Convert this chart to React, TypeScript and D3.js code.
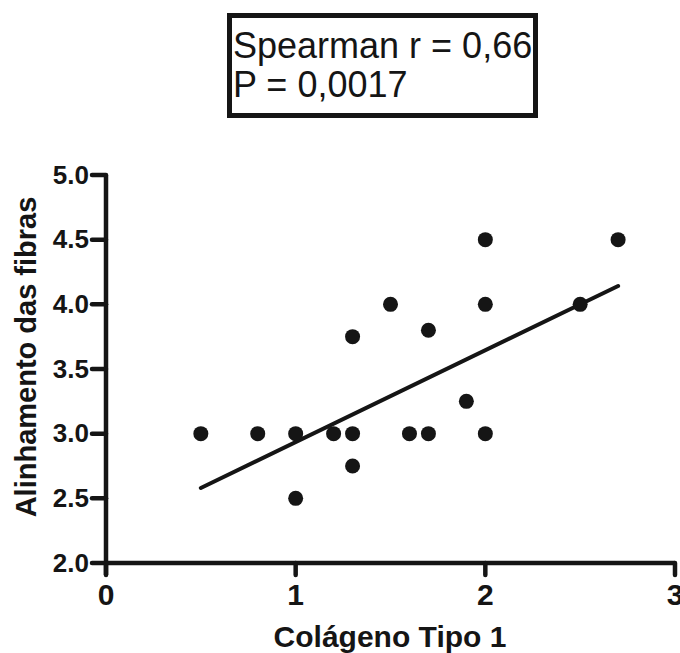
import React from "react";
import * as d3 from "d3";

const colageno = [0.5, 0.8, 1.0, 1.0, 1.2, 1.3, 1.3, 1.3, 1.5, 1.6, 1.7, 1.7, 1.9, 2.0, 2.0, 2.0, 2.5, 2.7];
const alinhamento = [3.0, 3.0, 3.0, 2.5, 3.0, 3.0, 2.75, 3.75, 4.0, 3.0, 3.0, 3.8, 3.25, 3.0, 4.0, 4.5, 4.0, 4.5];
// fitted line: [intercept, slope]
const fit = [2.225, 0.71];
const xTicks = [0, 1, 2, 3];
const yTicks = [2.0, 2.5, 3.0, 3.5, 4.0, 4.5, 5.0];
const statLines = ["Spearman r = 0,66", "P = 0,0017"];

const W = 680;
const H = 653;
const INK = "#151515";

const App = () => {
    const x = d3.scaleLinear().domain([0, 3]).range([106, 675]);
    const y = d3.scaleLinear().domain([2, 5]).range([563, 175]);

    const xMin = d3.min(colageno) as number;
    const xMax = d3.max(colageno) as number;
    const fitLine = d3.line<number>()
        .x((d) => x(d))
        .y((d) => y(fit[0] + fit[1] * d));

    return (
        <svg width={W} height={H} style={{position: "absolute", left: 0, top: 0}}
            fontFamily="'Liberation Sans', Arial, sans-serif">
            <rect x={0} y={0} width={W} height={H} fill="#fff" />

            {/* stats box */}
            <rect x={229.5} y={15.5} width={306} height={100} fill="none" stroke={INK} strokeWidth={5} />
            {statLines.map((s, i) => (
                <text key={i} x={233} y={58 + i * 39} fontSize={36} fill={INK}>{s}</text>
            ))}

            {/* axes */}
            <line x1={x(0)} x2={x(0)} y1={y(5)} y2={575} stroke={INK} strokeWidth={4.5} />
            <line x1={x(0)} x2={x(3)} y1={y(2)} y2={y(2)} stroke={INK} strokeWidth={4.5} />
            {yTicks.map((t) => (
                <g key={"y" + t}>
                    <line x1={92} x2={x(0)} y1={y(t)} y2={y(t)} stroke={INK} strokeWidth={4.5} strokeLinecap="round" />
                    <text x={89} y={y(t) + 8.5} textAnchor="end" fontSize={26} fontWeight="bold" fill={INK}>
                        {t.toFixed(1)}
                    </text>
                </g>
            ))}
            {xTicks.map((t) => (
                <g key={"x" + t}>
                    <line x1={x(t)} x2={x(t)} y1={y(2)} y2={575} stroke={INK} strokeWidth={4.5} strokeLinecap="round" />
                    <text x={x(t)} y={605} textAnchor="middle" fontSize={30} fontWeight="bold" fill={INK}>
                        {t}
                    </text>
                </g>
            ))}

            {/* axis titles */}
            <text x={390} y={647} textAnchor="middle" fontSize={30} fontWeight="bold" fill={INK}>
                Colágeno Tipo 1
            </text>
            <text transform="translate(36,357) rotate(-90)" textAnchor="middle" fontSize={29} fontWeight="bold" fill={INK}>
                Alinhamento das fibras
            </text>

            {/* regression line */}
            <path d={fitLine([xMin, xMax]) || ""} fill="none" stroke={INK} strokeWidth={4} strokeLinecap="round" />

            {/* points */}
            {colageno.map((c, i) => (
                <circle key={i} cx={x(c)} cy={y(alinhamento[i])} r={7.5} fill={INK} />
            ))}
        </svg>
    );
};

export default App;
